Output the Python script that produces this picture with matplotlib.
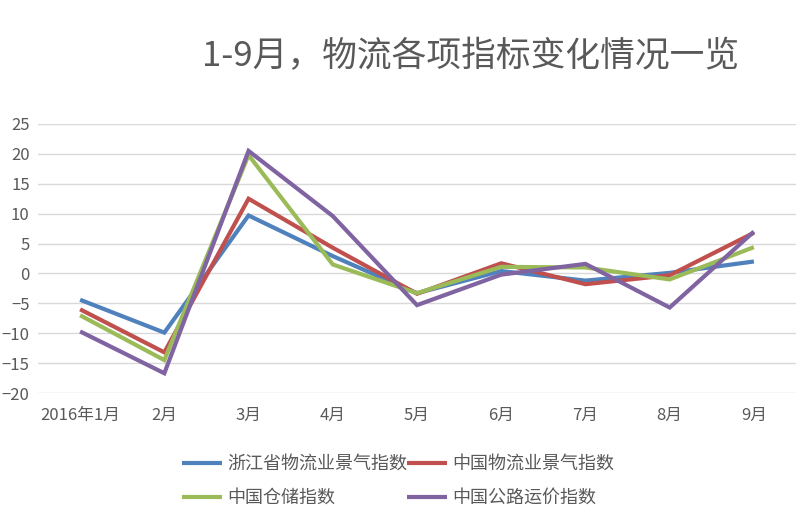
import matplotlib
matplotlib.use("Agg")
import matplotlib.pyplot as plt
import numpy as np

plt.rcParams['font.family'] = ['Noto Sans CJK SC', 'DejaVu Sans']

# ===== DATA =====
months = ["2016年1月", "2月", "3月", "4月", "5月", "6月", "7月", "8月", "9月"]
zhejiang = [-4.4, -9.9, 9.7, 2.9, -3.3, 0.4, -1.2, 0.1, 2.0]
china_logistics = [-6.0, -13.2, 12.5, 4.3, -3.4, 1.7, -1.8, -0.3, 6.8]
china_storage = [-7.0, -14.5, 19.8, 1.5, -3.3, 1.1, 1.0, -1.0, 4.4]
china_road = [-9.7, -16.7, 20.5, 9.6, -5.3, -0.2, 1.6, -5.7, 7.0]

series_names = ["浙江省物流业景气指数", "中国物流业景气指数", "中国仓储指数", "中国公路运价指数"]
colors = ["#4F81BD", "#C0504D", "#9BBB59", "#8064A2"]
text_color = "#595959"

# ===== PLOT =====
fig = plt.figure(figsize=(8.08, 5.19), dpi=100)
ax = fig.add_axes([38 / 808, 1 - 393 / 519, (796 - 38) / 808, (393 - 124) / 519])

x = np.arange(len(months))
lines = []
for vals, name, c in zip([zhejiang, china_logistics, china_storage, china_road], series_names, colors):
    ln, = ax.plot(x, vals, color=c, linewidth=3, label=name, solid_joinstyle="miter", solid_capstyle="butt")
    lines.append(ln)

ax.set_xlim(-0.5, len(months) - 0.5)
ax.set_ylim(-20, 25)
ax.set_yticks(range(-20, 26, 5))
ax.set_xticks(x)
ax.set_xticklabels(months)
ax.grid(axis="y", color="#D9D9D9", linewidth=1)
ax.set_axisbelow(True)
for s in ax.spines.values():
    s.set_visible(False)
ax.tick_params(axis="both", length=0, labelsize=12, colors=text_color)
ax.tick_params(axis="x", pad=10)
ax.tick_params(axis="y", pad=6)

fig.text(471 / 808, 1 - 57 / 519, "1-9月，物流各项指标变化情况一览", ha="center", va="center",
         fontsize=25, color=text_color)

# legend is filled column by column, so reorder to get row layout
order = [0, 2, 1, 3]
fig.legend([lines[i] for i in order], [series_names[i] for i in order],
           loc="center", bbox_to_anchor=(398 / 808, 1 - 481 / 519), ncol=2, frameon=False,
           fontsize=13, handlelength=2.2, handletextpad=0.3, columnspacing=0.0,
           labelspacing=0.9, labelcolor=text_color)

fig.savefig("out.png", dpi=100)
